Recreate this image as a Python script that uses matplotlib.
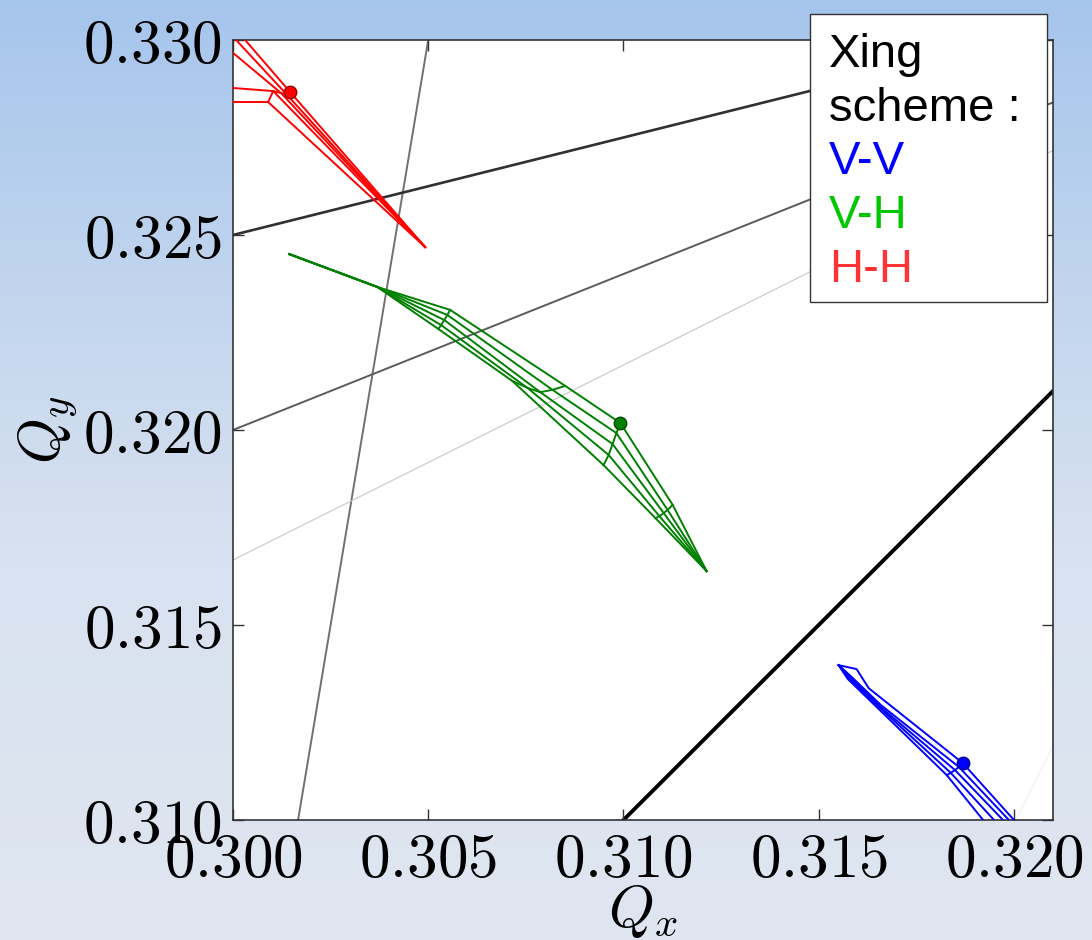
import numpy as np
import matplotlib
matplotlib.use('Agg')
import matplotlib.pyplot as plt
from matplotlib.colors import LinearSegmentedColormap
from matplotlib.patches import Rectangle

plt.rcParams['mathtext.fontset'] = 'cm'

# lignes de resonance : a*Qx + b*Qy = c
res_a = [6, -1, -2, -3, 1, 2]
res_b = [-1, 4, 5, 6, -1, -1]
res_c = [1.5, 1, 1, 1, 0, 0.3301]

# footprint H-H (rouge) : une ligne par angle, une colonne par amplitude
hh_x = np.array([[0.30492, 0.30146, 0.30031, 0.29992],
                 [0.30492, 0.30136, 0.30008, 0.29972],
                 [0.30492, 0.30123, 0.30000, 0.29954],
                 [0.30492, 0.30103, 0.30000, 0.29915],
                 [0.30492, 0.30090, 0.30000, 0.29915]])
hh_y = np.array([[0.32469, 0.32867, 0.33000, 0.33046],
                 [0.32469, 0.32862, 0.33000, 0.33038],
                 [0.32469, 0.32864, 0.32967, 0.33000],
                 [0.32469, 0.32869, 0.32877, 0.32879],
                 [0.32469, 0.32841, 0.32841, 0.32841]])
hh_arcs = [1]
hh_dot = (0.30146, 0.32867)

# footprint V-H (vert)
vh_x = np.array([[0.31213, 0.31126, 0.30992, 0.30851, 0.30556, 0.30369, 0.30144],
                 [0.31213, 0.31113, 0.30982, 0.30818, 0.30549, 0.30369, 0.30144],
                 [0.31213, 0.31103, 0.30972, 0.30787, 0.30541, 0.30369, 0.30144],
                 [0.31213, 0.31092, 0.30962, 0.30754, 0.30533, 0.30369, 0.30144],
                 [0.31213, 0.31082, 0.30949, 0.30715, 0.30526, 0.30369, 0.30144]])
vh_y = np.array([[0.31638, 0.31808, 0.32018, 0.32113, 0.32308, 0.32367, 0.32451],
                 [0.31638, 0.31795, 0.31992, 0.32103, 0.32295, 0.32367, 0.32451],
                 [0.31638, 0.31787, 0.31964, 0.32097, 0.32282, 0.32367, 0.32451],
                 [0.31638, 0.31779, 0.31936, 0.32108, 0.32269, 0.32367, 0.32451],
                 [0.31638, 0.31774, 0.31910, 0.32126, 0.32259, 0.32367, 0.32451]])
vh_arcs = [1, 2, 3, 4]
vh_dot = (0.30992, 0.32018)

# footprint V-V (bleu)
vv_x = np.array([[0.31551, 0.31597, 0.31628, 0.31869, 0.32000, 0.32069],
                 [0.31551, 0.31582, 0.31659, 0.31859, 0.31987, 0.32059],
                 [0.31551, 0.31580, 0.31656, 0.31849, 0.31972, 0.32046],
                 [0.31551, 0.31577, 0.31654, 0.31838, 0.31949, 0.32018],
                 [0.31551, 0.31574, 0.31651, 0.31828, 0.31921, 0.31982]])
vv_y = np.array([[0.31397, 0.31387, 0.31338, 0.31146, 0.31000, 0.30923],
                 [0.31397, 0.31369, 0.31295, 0.31136, 0.31000, 0.30923],
                 [0.31397, 0.31367, 0.31292, 0.31128, 0.31000, 0.30923],
                 [0.31397, 0.31364, 0.31290, 0.31121, 0.31000, 0.30923],
                 [0.31397, 0.31362, 0.31287, 0.31115, 0.31000, 0.30923]])
vv_arcs = [3]
vv_dot = (0.31869, 0.31146)

xticks = [0.300, 0.305, 0.310, 0.315, 0.320]
xtick_labels = ['0.300', '0.305', '0.310', '0.315', '0.320']
yticks = [0.310, 0.315, 0.320, 0.325, 0.330]
ytick_labels = ['0.310', '0.315', '0.320', '0.325', '0.330']

legende_titre = ['Xing', 'scheme :']
legende_noms = ['V-V', 'V-H', 'H-H']
legende_couleurs = ['#0000ff', '#00c800', '#ff3333']

fig = plt.figure(figsize=(10.92, 9.4), dpi=100)

# fond degrade facon diapo
bg = fig.add_axes([0, 0, 1, 1], zorder=-10)
fond = LinearSegmentedColormap.from_list('fond', [(0, '#a6c5ec'), (0.35, '#c5d7ee'),
                                                  (0.6, '#d9e2f0'), (1, '#dfe6f1')])
bg.imshow(np.linspace(0, 1, 256).reshape(-1, 1), aspect='auto', cmap=fond, extent=[0, 1, 0, 1])
bg.axis('off')

ax = fig.add_axes([233 / 1092, 120 / 940, 820 / 1092, 780 / 940])

# resonances
styles = [('#707070', 1.4), ('#303030', 1.9), ('#5a5a5a', 1.4), ('#c8c8c8', 0.8),
          ('black', 2.8), ('#f0f0f0', 0.8)]
for a, b, c, (col, lw) in zip(res_a, res_b, res_c, styles):
    ax.axline((0, c / b), slope=-a / b, color=col, lw=lw, zorder=1)

# footprints
for fx, fy, arcs, dot, col, mec in [(hh_x, hh_y, hh_arcs, hh_dot, '#ff0000', '#990000'),
                                    (vh_x, vh_y, vh_arcs, vh_dot, '#008000', '#004d00'),
                                    (vv_x, vv_y, vv_arcs, vv_dot, '#0000ff', '#000099')]:
    ax.plot(fx.T, fy.T, color=col, lw=1.4, zorder=3)
    for k in arcs:
        ax.plot(fx[:, k], fy[:, k], color=col, lw=1.4, zorder=3)
    ax.plot(dot[0], dot[1], 'o', color=col, mec=mec, ms=9, zorder=4)

ax.set_xlim(0.300, 0.321)
ax.set_ylim(0.310, 0.330)
ax.set_xticks(xticks)
ax.set_xticklabels(['$' + t + '$' for t in xtick_labels], fontsize=44)
ax.set_yticks(yticks)
ax.set_yticklabels(['$' + t + '$' for t in ytick_labels], fontsize=44)
ax.tick_params(direction='in', length=8, width=1, top=True, right=True, pad=8, color='#333333')
for s in ax.spines.values():
    s.set_color('#333333')
    s.set_linewidth(1.2)
ax.set_xlabel('$Q_x$', fontsize=42, labelpad=-5)
ax.set_ylabel('$Q_y$', fontsize=42, labelpad=2)

# boite de legende
fig.patches.append(Rectangle((810 / 1092, 1 - 302 / 940), 237 / 1092, 288 / 940,
                             transform=fig.transFigure, facecolor='white',
                             edgecolor='#333333', lw=1, zorder=5))
lignes = legende_titre + legende_noms
couleurs = ['black', 'black'] + legende_couleurs
for i, (t, col) in enumerate(zip(lignes, couleurs)):
    fig.text(829 / 1092, 1 - (67 + 53.7 * i) / 940, t, color=col, fontsize=34,
             family='Liberation Sans', va='baseline', zorder=6)

fig.savefig('out.png', dpi=100)
